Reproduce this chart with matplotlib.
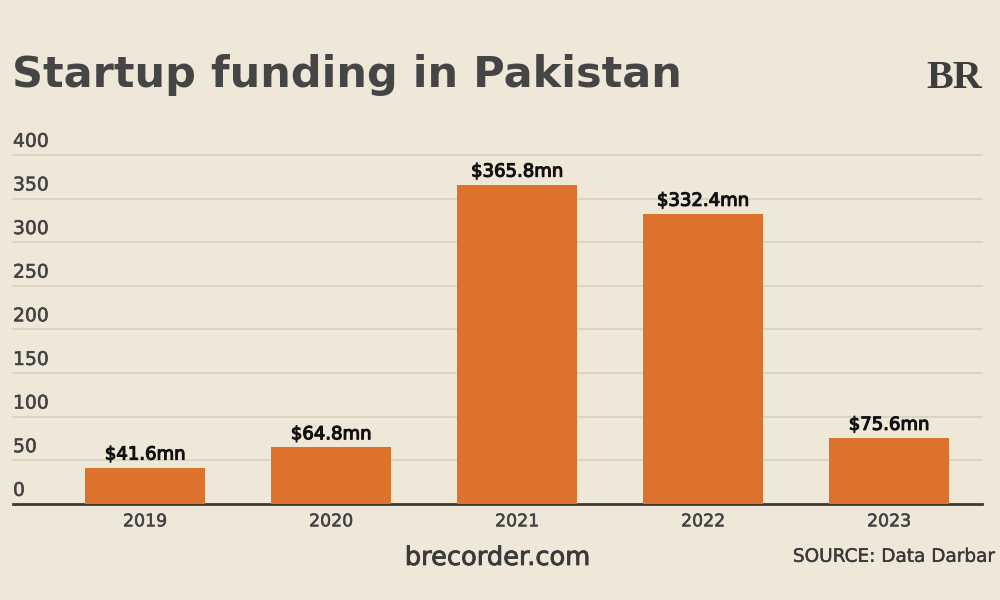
import matplotlib
matplotlib.use('Agg')
import matplotlib.pyplot as plt
import matplotlib.patheffects as pe

# データ
years = ['2019', '2020', '2021', '2022', '2023']
funding = [41.6, 64.8, 365.8, 332.4, 75.6]
value_labels = ['$41.6mn', '$64.8mn', '$365.8mn', '$332.4mn', '$75.6mn']
y_ticks = [0, 50, 100, 150, 200, 250, 300, 350, 400]

# 色
bg_color = '#efe8d8'
bar_color = '#dc722c'
grid_color = '#d8d0bf'
text_color = '#444444'

plt.rcParams['font.family'] = ['DejaVu Sans']


def medium(color, w=0.5):
    # 中太字っぽく見せるための縁取り
    return [pe.withStroke(linewidth=w, foreground=color)]


fig = plt.figure(figsize=(10, 6), dpi=100, facecolor=bg_color)
ax = fig.add_axes([0.013, 0.16, 0.969, 0.5817])
ax.set_facecolor(bg_color)

x = range(len(years))
ax.bar(x, funding, width=0.65, color=bar_color, zorder=3)

ax.set_xlim(-0.71, 4.5)
ax.set_ylim(0, 400)

# グリッド線と目盛りラベル（線の上に左寄せ）
for v in y_ticks:
    if v > 0:
        ax.axhline(v, color=grid_color, linewidth=1.2, zorder=1, clip_on=False)
    ax.annotate(str(v), xy=(-0.71, v), xytext=(0, 3), textcoords='offset points',
                ha='left', va='bottom', fontsize=13.5, color=text_color,
                path_effects=medium(text_color, 0.4))

# 棒の上の値ラベル
for xi, val, lab in zip(x, funding, value_labels):
    ax.annotate(lab, xy=(xi, val), xytext=(0, 3), textcoords='offset points',
                ha='center', va='bottom', fontsize=13, color='#111111',
                path_effects=medium('#111111', 0.8))

for s in ['top', 'right', 'left']:
    ax.spines[s].set_visible(False)
ax.spines['bottom'].set_color('#3a3a3a')
ax.spines['bottom'].set_linewidth(2)
ax.set_yticks([])
ax.set_xticks(list(x))
ax.set_xticklabels(years, fontsize=12.5, color=text_color)
for t in ax.get_xticklabels():
    t.set_path_effects(medium(text_color, 0.4))
ax.tick_params(axis='x', length=0, pad=6)

# タイトルなど
fig.text(0.012, 0.875, 'Startup funding in Pakistan', ha='left', va='center',
         fontsize=31, fontweight='bold', color='#454545')
fig.text(0.954, 0.87, 'BR', ha='center', va='center', fontsize=29, fontweight='bold',
         family='Liberation Serif', color='#3d3d3d')
fig.text(0.498, 0.07, 'brecorder.com', ha='center', va='center', fontsize=18.5,
         color='#3a3a3a', path_effects=medium('#3a3a3a', 0.6))
fig.text(0.995, 0.072, 'SOURCE: Data Darbar', ha='right', va='center', fontsize=13.3,
         color='#3a3a3a', path_effects=medium('#3a3a3a', 0.3))

fig.savefig('out.png', dpi=100, facecolor=bg_color)
